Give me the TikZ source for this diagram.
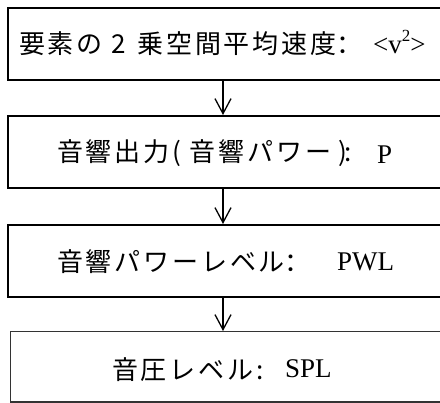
\documentclass[tikz,border=0pt]{standalone}
\usepackage{fontspec}
\setmainfont{Liberation Serif}
\newfontfamily\jp[LetterSpace=10.8]{Noto Sans CJK JP}
\newfontfamily\jpc{Noto Sans CJK SC}
\usetikzlibrary{arrows.meta}
\begin{document}
\begin{tikzpicture}[x=1pt,y=-1pt,
  box/.style={draw=black,line width=1.8pt,minimum width=480pt,minimum height=72pt,inner sep=0pt,anchor=north west},
  jtxt/.style={font=\jp\fontsize{26}{30}\selectfont,inner sep=0pt,anchor=west},
  ltxt/.style={font=\fontsize{27}{30}\selectfont,inner sep=0pt,anchor=base west},
  arr/.style={line width=1.3pt,-{Straight Barb[length=15pt,width=16pt,line width=1.3pt]}}]
\useasboundingbox (0,0) rectangle (440,403);
\clip (0,0) rectangle (440,403);
\node[box] (b1) at (7,7) {};
\node[box] (b2) at (7,115) {};
\node[box] (b3) at (7,224) {};
\node[box,line width=1.3pt,draw=black!80,minimum height=70.5pt] (b4) at (10,331) {};
\coordinate (ax) at (223,0);
\draw[arr] (ax |- b1.south) -- (ax |- b2.north);
\draw[arr] (ax |- b2.south) -- (ax |- b3.north);
\draw[arr] (ax |- b3.south) -- (ax |- b4.north);
\node[jtxt] (t1) at (19,43.5) {要素の 2 \kern3pt 乗空間平均速度{\jpc ：}};
\node[ltxt] (l1) at (373,53.3) {<v\raisebox{0.42em}{\fontsize{17}{17}\selectfont 2}>};
\node[jtxt] (t2) at (57,153.5) {音響出力( 音響パワー\kern-1pt\ )\kern-3pt:};
\node[ltxt] (l2) at (377,163.3) {P};
\node[jtxt] (t3) at (57,262) {音響パワーレベル{\jpc ：}};
\node[ltxt] (l3) at (337,271) {PWL};
\node[jtxt] (t4) at (112,370) {音圧レベル:};
\node[ltxt] (l4) at (285,378) {SPL};
\end{tikzpicture}
\end{document}
